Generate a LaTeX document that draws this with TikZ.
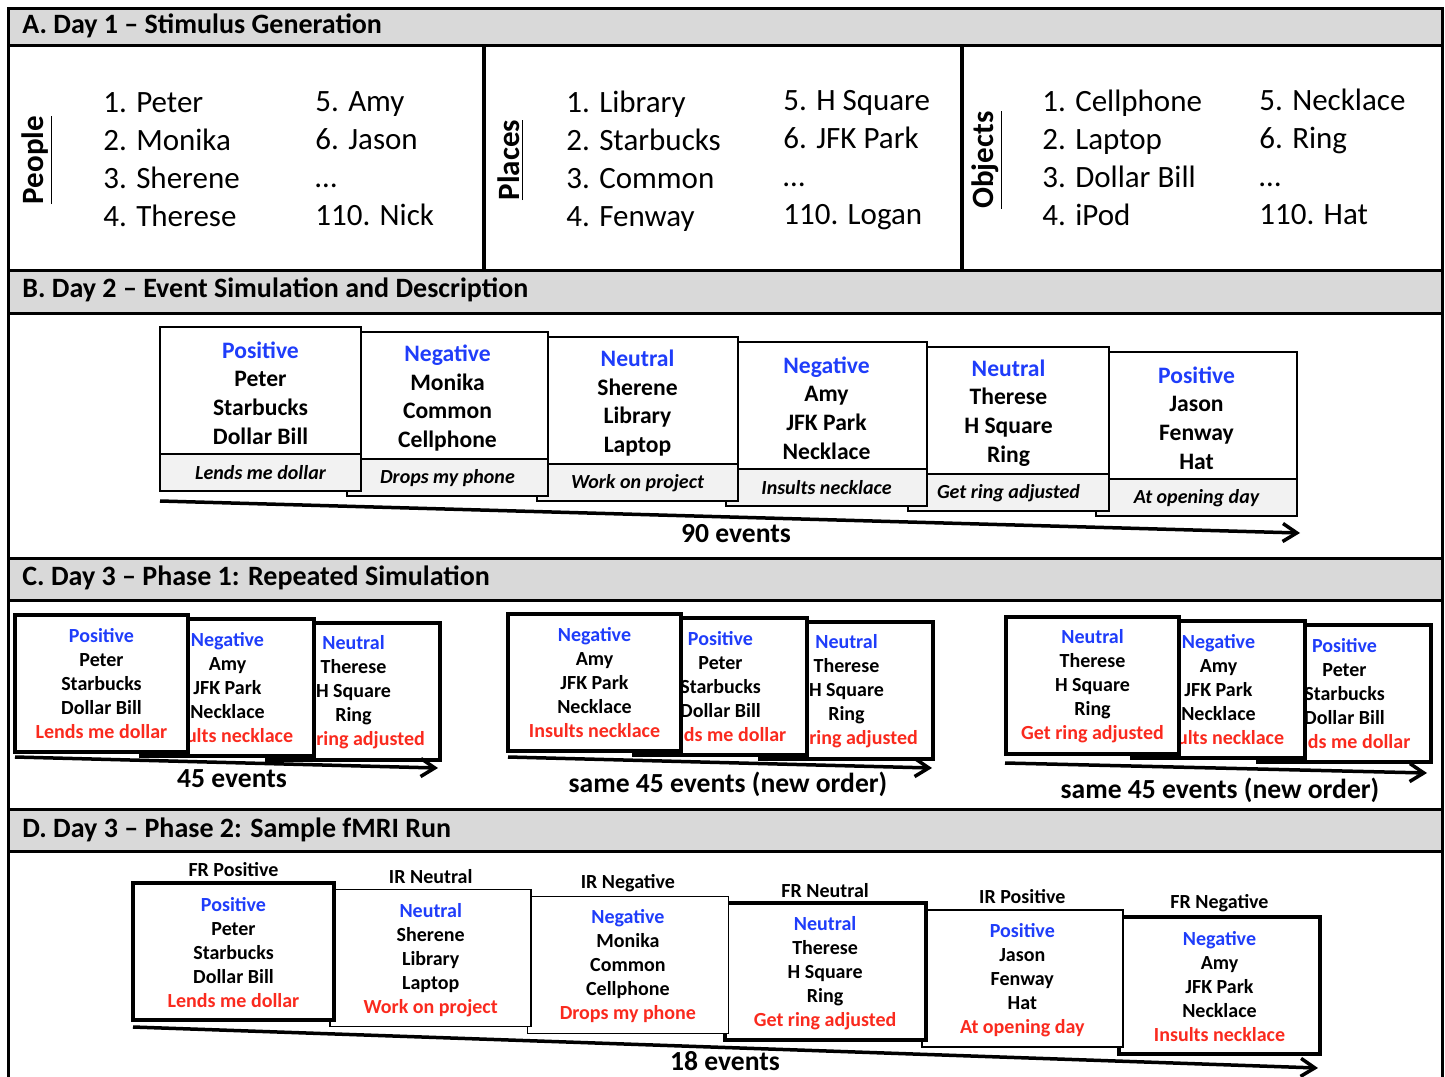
\documentclass[tikz,border=0pt]{standalone}
\usepackage{fontspec}
\setmainfont{Carlito}
\usetikzlibrary{arrows.meta, calc}
\definecolor{blu}{HTML}{1F3DFA}
\definecolor{rd}{HTML}{FA2A1E}
\definecolor{hdrgray}{HTML}{D9D9D9}
\definecolor{capgray}{HTML}{F2F2F2}

% event contents and actions
\newcommand\evA{\textcolor{blu}{Positive}\\Peter\\Starbucks\\Dollar Bill}
\newcommand\evB{\textcolor{blu}{Negative}\\Monika\\Common\\Cellphone}
\newcommand\evC{\textcolor{blu}{Neutral}\\Sherene\\Library\\Laptop}
\newcommand\evD{\textcolor{blu}{Negative}\\Amy\\JFK Park\\Necklace}
\newcommand\evE{\textcolor{blu}{Neutral}\\Therese\\H Square\\Ring}
\newcommand\evF{\textcolor{blu}{Positive}\\Jason\\Fenway\\Hat}
\newcommand\acA{Lends me dollar}
\newcommand\acB{Drops my phone}
\newcommand\acC{Work on project}
\newcommand\acD{Insults necklace}
\newcommand\acE{Get ring adjusted}
\newcommand\acF{At opening day}

\tikzset{
	hdrtxt/.style={anchor=west, inner sep=0pt, font=\bfseries\fontsize{14}{16}\selectfont},
	listtxt/.style={anchor=west, align=left, inner sep=0pt, font=\fontsize{15.5}{19}\selectfont},
	cattxt/.style={rotate=90, inner sep=0pt, font=\bfseries\fontsize{15.5}{19}\selectfont},
	evbox/.style={draw, fill=white, line width=0.75pt},
	capbox/.style={draw, fill=capgray, line width=0.75pt},
	bigtxt/.style={align=center, inner sep=0pt, font=\bfseries\fontsize{11.8}{14.3}\selectfont},
	captxt/.style={inner sep=0pt, font=\bfseries\itshape\fontsize{10}{12}\selectfont},
	smalltxt/.style={align=center, inner sep=0pt, font=\bfseries\fontsize{10}{12}\selectfont},
	rptbox/.style={draw, fill=white, line width=2.2pt},
	frbox/.style={draw, fill=white, line width=2pt},
	irbox/.style={draw, fill=white, line width=0.75pt},
	timeline/.style={line width=1.75pt, -{Straight Barb[length=7pt, width=9pt]}},
	counttxt/.style={inner sep=0pt, font=\bfseries\fontsize{13.8}{16}\selectfont},
}

\begin{document}
\begin{tikzpicture}[x=0.5pt, y=-0.5pt]
	\useasboundingbox (0,0) rectangle (1445,1076);

	% frame and section bands
	\foreach \t/\b in {8/45, 270/313, 558/600, 809/851} {
			\fill[hdrgray] (8,\t) rectangle (1442,\b);
		}
	\foreach \y in {45, 270, 313, 558, 600, 809, 851} {
			\draw[line width=1.5pt] (8,\y) -- (1442,\y);
		}
	\draw[line width=1.5pt] (8,1085) -- (8,8) -- (1442,8) -- (1442,1085);

	\node[hdrtxt] (hdrA) at (22,26) {A. Day 1 – Stimulus Generation};
	\node[hdrtxt] (hdrB) at (22,290) {B. Day 2 – Event Simulation and Description};
	\node[hdrtxt] (hdrC) at (22,578) {C. Day 3 – Phase 1: Repeated Simulation};
	\node[hdrtxt] (hdrD) at (22,830) {D. Day 3 – Phase 2: Sample fMRI Run};

	% A
	\draw[line width=2pt] (484,45) -- (484,270);
	\draw[line width=2pt] (962,45) -- (962,270);

	\node[cattxt] (people) at (37,160) {\underline{People}};
	\node[listtxt] (people1) at (103,160) {1. Peter\\2. Monika\\3. Sherene\\4. Therese};
	\node[listtxt] (people2) at (315,159) {5. Amy\\6. Jason\\…\\110. Nick};

	\node[cattxt] (places) at (511,160) {\underline{Places}};
	\node[listtxt] (places1) at (566,161) {1. Library\\2. Starbucks\\3. Common\\4. Fenway};
	\node[listtxt] (places2) at (783,160) {5. H Square\\6. JFK Park\\…\\110. Logan};

	\node[cattxt] (objects) at (987,160) {\underline{Objects}};
	\node[listtxt] (objects1) at (1042,158) {1. Cellphone\\2. Laptop\\3. Dollar Bill\\4. iPod};
	\node[listtxt] (objects2) at (1259,157) {5. Necklace\\6. Ring\\…\\110. Hat};

	% B
	\foreach \i/\bx/\ev/\ac in {5/1096/\evF/\acF, 4/908/\evE/\acE, 3/726/\evD/\acD,
			2/537/\evC/\acC, 1/347/\evB/\acB, 0/160/\evA/\acA} {
			\pgfmathsetmacro\by{327+5*\i}
			\draw[evbox] (\bx,\by) rectangle ++(201,127);
			\draw[capbox] (\bx,\by+127) rectangle ++(201,37);
			\node[bigtxt] (sim\i) at (\bx+100.5,\by+66) {\ev};
			\node[captxt] (simcap\i) at (\bx+100.5,\by+146) {\ac};
		}
	\coordinate (simstart) at (160,501);
	\coordinate (simend) at (1300,533);
	\draw[timeline] (simstart) -- (simend);
	\node[counttxt] (simcount) at (736,534) {90 events};

	% C
	\foreach \gx/\gy/\j/\e in {15/615/2/E, 15/615/1/D, 15/615/0/A,
			508/614/2/E, 508/614/1/A, 508/614/0/D,
			1006/617/2/A, 1006/617/1/D, 1006/617/0/E} {
			\pgfmathsetmacro\bx{\gx+126*\j}
			\pgfmathsetmacro\by{\gy+4*\j}
			\draw[rptbox] (\bx,\by) rectangle ++(173,137);
			\node[smalltxt] (rep-\gx-\j) at (\bx+86.5,\by+69)
			{\csname ev\e\endcsname\\\textcolor{rd}{\csname ac\e\endcsname}};
		}
	\coordinate (rep1s) at (15,757);
	\coordinate (rep1e) at (438,768);
	\coordinate (rep2s) at (508,757);
	\coordinate (rep2e) at (932,768);
	\coordinate (rep3s) at (1005,763);
	\coordinate (rep3e) at (1427,773);
	\draw[timeline] (rep1s) -- (rep1e);
	\draw[timeline] (rep2s) -- (rep2e);
	\draw[timeline] (rep3s) -- (rep3e);
	\node[counttxt] (rep1n) at (232,779) {45 events};
	\node[counttxt] (rep2n) at (728,784) {same 45 events (new order)};
	\node[counttxt] (rep3n) at (1220,790) {same 45 events (new order)};

	% D
	\foreach \i/\kind/\lab/\e in {5/frbox/FR Negative/D, 4/irbox/IR Positive/F,
			3/frbox/FR Neutral/E, 2/irbox/IR Negative/B,
			1/irbox/IR Neutral/C, 0/frbox/FR Positive/A} {
			\pgfmathsetmacro\bx{133+197.2*\i}
			\pgfmathsetmacro\by{883+6.7*\i}
			\draw[style=\kind] (\bx,\by) rectangle ++(201,137);
			\node[smalltxt] (run\i) at (\bx+100.5,\by+70)
			{\csname ev\e\endcsname\\\textcolor{rd}{\csname ac\e\endcsname}};
			\node[smalltxt] (runlab\i) at (\bx+100.5,\by-13) {\lab};
		}
	\coordinate (runstart) at (133,1027);
	\coordinate (runend) at (1318,1068);
	\draw[timeline] (runstart) -- (runend);
	\node[counttxt] (runcount) at (725,1061) {18 events};
\end{tikzpicture}
\end{document}
